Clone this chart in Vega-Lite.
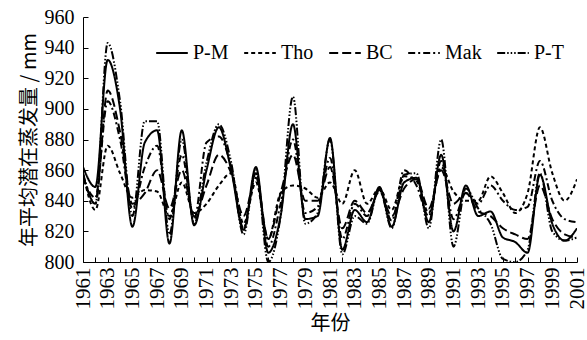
{
  "$schema": "https://vega.github.io/schema/vega-lite/v6.json",
  "autosize": {"type": "none"},
  "padding": {"left": 83, "top": 17, "right": 10, "bottom": 78},
  "width": 494,
  "height": 245,
  "background": "white",
  "config": {
    "view": {"stroke": null},
    "font": "Liberation Serif"
  },
  "data": {"values": [
{"year":1961,"model":"P-M","value":862},{"year":1962,"model":"P-M","value":849},{"year":1963,"model":"P-M","value":932},{"year":1964,"model":"P-M","value":900},{"year":1965,"model":"P-M","value":823},{"year":1966,"model":"P-M","value":878},{"year":1967,"model":"P-M","value":886},{"year":1968,"model":"P-M","value":812},{"year":1969,"model":"P-M","value":886},{"year":1970,"model":"P-M","value":824},{"year":1971,"model":"P-M","value":860},{"year":1972,"model":"P-M","value":888},{"year":1973,"model":"P-M","value":860},{"year":1974,"model":"P-M","value":821},{"year":1975,"model":"P-M","value":862},{"year":1976,"model":"P-M","value":806},{"year":1977,"model":"P-M","value":830},{"year":1978,"model":"P-M","value":890},{"year":1979,"model":"P-M","value":828},{"year":1980,"model":"P-M","value":830},{"year":1981,"model":"P-M","value":881},{"year":1982,"model":"P-M","value":808},{"year":1983,"model":"P-M","value":834},{"year":1984,"model":"P-M","value":826},{"year":1985,"model":"P-M","value":849},{"year":1986,"model":"P-M","value":823},{"year":1987,"model":"P-M","value":852},{"year":1988,"model":"P-M","value":855},{"year":1989,"model":"P-M","value":826},{"year":1990,"model":"P-M","value":870},{"year":1991,"model":"P-M","value":820},{"year":1992,"model":"P-M","value":850},{"year":1993,"model":"P-M","value":830},{"year":1994,"model":"P-M","value":833},{"year":1995,"model":"P-M","value":816},{"year":1996,"model":"P-M","value":813},{"year":1997,"model":"P-M","value":806},{"year":1998,"model":"P-M","value":857},{"year":1999,"model":"P-M","value":825},{"year":2000,"model":"P-M","value":814},{"year":2001,"model":"P-M","value":822},
{"year":1961,"model":"Tho","value":858},{"year":1962,"model":"Tho","value":834},{"year":1963,"model":"Tho","value":876},{"year":1964,"model":"Tho","value":858},{"year":1965,"model":"Tho","value":842},{"year":1966,"model":"Tho","value":847},{"year":1967,"model":"Tho","value":846},{"year":1968,"model":"Tho","value":830},{"year":1969,"model":"Tho","value":852},{"year":1970,"model":"Tho","value":832},{"year":1971,"model":"Tho","value":838},{"year":1972,"model":"Tho","value":850},{"year":1973,"model":"Tho","value":858},{"year":1974,"model":"Tho","value":825},{"year":1975,"model":"Tho","value":852},{"year":1976,"model":"Tho","value":815},{"year":1977,"model":"Tho","value":845},{"year":1978,"model":"Tho","value":850},{"year":1979,"model":"Tho","value":848},{"year":1980,"model":"Tho","value":842},{"year":1981,"model":"Tho","value":852},{"year":1982,"model":"Tho","value":838},{"year":1983,"model":"Tho","value":860},{"year":1984,"model":"Tho","value":838},{"year":1985,"model":"Tho","value":848},{"year":1986,"model":"Tho","value":834},{"year":1987,"model":"Tho","value":856},{"year":1988,"model":"Tho","value":853},{"year":1989,"model":"Tho","value":832},{"year":1990,"model":"Tho","value":862},{"year":1991,"model":"Tho","value":846},{"year":1992,"model":"Tho","value":840},{"year":1993,"model":"Tho","value":840},{"year":1994,"model":"Tho","value":856},{"year":1995,"model":"Tho","value":845},{"year":1996,"model":"Tho","value":832},{"year":1997,"model":"Tho","value":845},{"year":1998,"model":"Tho","value":888},{"year":1999,"model":"Tho","value":858},{"year":2000,"model":"Tho","value":840},{"year":2001,"model":"Tho","value":854},
{"year":1961,"model":"BC","value":857},{"year":1962,"model":"BC","value":838},{"year":1963,"model":"BC","value":912},{"year":1964,"model":"BC","value":885},{"year":1965,"model":"BC","value":838},{"year":1966,"model":"BC","value":845},{"year":1967,"model":"BC","value":860},{"year":1968,"model":"BC","value":835},{"year":1969,"model":"BC","value":860},{"year":1970,"model":"BC","value":830},{"year":1971,"model":"BC","value":850},{"year":1972,"model":"BC","value":870},{"year":1973,"model":"BC","value":858},{"year":1974,"model":"BC","value":830},{"year":1975,"model":"BC","value":855},{"year":1976,"model":"BC","value":815},{"year":1977,"model":"BC","value":845},{"year":1978,"model":"BC","value":870},{"year":1979,"model":"BC","value":840},{"year":1980,"model":"BC","value":840},{"year":1981,"model":"BC","value":862},{"year":1982,"model":"BC","value":822},{"year":1983,"model":"BC","value":840},{"year":1984,"model":"BC","value":832},{"year":1985,"model":"BC","value":846},{"year":1986,"model":"BC","value":830},{"year":1987,"model":"BC","value":848},{"year":1988,"model":"BC","value":854},{"year":1989,"model":"BC","value":835},{"year":1990,"model":"BC","value":860},{"year":1991,"model":"BC","value":838},{"year":1992,"model":"BC","value":845},{"year":1993,"model":"BC","value":833},{"year":1994,"model":"BC","value":830},{"year":1995,"model":"BC","value":822},{"year":1996,"model":"BC","value":818},{"year":1997,"model":"BC","value":815},{"year":1998,"model":"BC","value":850},{"year":1999,"model":"BC","value":828},{"year":2000,"model":"BC","value":818},{"year":2001,"model":"BC","value":816},
{"year":1961,"model":"Mak","value":855},{"year":1962,"model":"Mak","value":842},{"year":1963,"model":"Mak","value":905},{"year":1964,"model":"Mak","value":880},{"year":1965,"model":"Mak","value":835},{"year":1966,"model":"Mak","value":862},{"year":1967,"model":"Mak","value":876},{"year":1968,"model":"Mak","value":828},{"year":1969,"model":"Mak","value":870},{"year":1970,"model":"Mak","value":828},{"year":1971,"model":"Mak","value":878},{"year":1972,"model":"Mak","value":882},{"year":1973,"model":"Mak","value":862},{"year":1974,"model":"Mak","value":822},{"year":1975,"model":"Mak","value":858},{"year":1976,"model":"Mak","value":810},{"year":1977,"model":"Mak","value":838},{"year":1978,"model":"Mak","value":880},{"year":1979,"model":"Mak","value":832},{"year":1980,"model":"Mak","value":836},{"year":1981,"model":"Mak","value":868},{"year":1982,"model":"Mak","value":815},{"year":1983,"model":"Mak","value":838},{"year":1984,"model":"Mak","value":830},{"year":1985,"model":"Mak","value":847},{"year":1986,"model":"Mak","value":827},{"year":1987,"model":"Mak","value":860},{"year":1988,"model":"Mak","value":850},{"year":1989,"model":"Mak","value":830},{"year":1990,"model":"Mak","value":866},{"year":1991,"model":"Mak","value":828},{"year":1992,"model":"Mak","value":845},{"year":1993,"model":"Mak","value":838},{"year":1994,"model":"Mak","value":850},{"year":1995,"model":"Mak","value":840},{"year":1996,"model":"Mak","value":834},{"year":1997,"model":"Mak","value":836},{"year":1998,"model":"Mak","value":866},{"year":1999,"model":"Mak","value":840},{"year":2000,"model":"Mak","value":828},{"year":2001,"model":"Mak","value":826},
{"year":1961,"model":"P-T","value":858},{"year":1962,"model":"P-T","value":838},{"year":1963,"model":"P-T","value":943},{"year":1964,"model":"P-T","value":905},{"year":1965,"model":"P-T","value":830},{"year":1966,"model":"P-T","value":892},{"year":1967,"model":"P-T","value":892},{"year":1968,"model":"P-T","value":818},{"year":1969,"model":"P-T","value":880},{"year":1970,"model":"P-T","value":825},{"year":1971,"model":"P-T","value":865},{"year":1972,"model":"P-T","value":890},{"year":1973,"model":"P-T","value":865},{"year":1974,"model":"P-T","value":818},{"year":1975,"model":"P-T","value":860},{"year":1976,"model":"P-T","value":800},{"year":1977,"model":"P-T","value":830},{"year":1978,"model":"P-T","value":908},{"year":1979,"model":"P-T","value":825},{"year":1980,"model":"P-T","value":832},{"year":1981,"model":"P-T","value":880},{"year":1982,"model":"P-T","value":805},{"year":1983,"model":"P-T","value":830},{"year":1984,"model":"P-T","value":825},{"year":1985,"model":"P-T","value":848},{"year":1986,"model":"P-T","value":822},{"year":1987,"model":"P-T","value":857},{"year":1988,"model":"P-T","value":858},{"year":1989,"model":"P-T","value":822},{"year":1990,"model":"P-T","value":880},{"year":1991,"model":"P-T","value":810},{"year":1992,"model":"P-T","value":848},{"year":1993,"model":"P-T","value":835},{"year":1994,"model":"P-T","value":825},{"year":1995,"model":"P-T","value":802},{"year":1996,"model":"P-T","value":800},{"year":1997,"model":"P-T","value":808},{"year":1998,"model":"P-T","value":858},{"year":1999,"model":"P-T","value":820},{"year":2000,"model":"P-T","value":814},{"year":2001,"model":"P-T","value":816}
  ]},
  "mark": {"type": "line", "interpolate": "monotone", "color": "black", "strokeWidth": 2, "clip": true},
  "encoding": {
    "x": {
      "field": "year", "type": "quantitative",
      "scale": {"domain": [1961, 2001], "nice": false, "zero": false},
      "axis": {
        "title": "年份", "titleFont": "Noto Sans CJK SC", "titleFontSize": 20, "titleFontWeight": "normal", "titleColor": "black", "titlePadding": 4,
        "values": [1961,1962,1963,1964,1965,1966,1967,1968,1969,1970,1971,1972,1973,1974,1975,1976,1977,1978,1979,1980,1981,1982,1983,1984,1985,1986,1987,1988,1989,1990,1991,1992,1993,1994,1995,1996,1997,1998,1999,2000,2001],
        "format": "d",
        "labelExpr": "(datum.value - 1961) % 2 == 0 ? datum.label : ''",
        "labelOverlap": false,
        "labelAngle": -90, "labelFont": "Liberation Serif, serif", "labelFontSize": 21, "labelColor": "black", "labelPadding": 10,
        "tickSize": -5, "tickColor": "black", "domainColor": "black", "grid": false
      }
    },
    "y": {
      "field": "value", "type": "quantitative",
      "scale": {"domain": [800, 960], "nice": false, "zero": false},
      "axis": {
        "title": "年平均潜在蒸发量 / mm", "titleFont": "Noto Sans CJK SC", "titleFontSize": 20, "titleFontWeight": "normal", "titleColor": "black", "titlePadding": 5,
        "values": [800,820,840,860,880,900,920,940,960],
        "labelFont": "Liberation Serif, serif", "labelFontSize": 20, "labelColor": "black", "labelPadding": 14,
        "tickSize": -5, "tickColor": "black", "domainColor": "black", "grid": false
      }
    },
    "strokeDash": {
      "field": "model", "type": "nominal",
      "scale": {"domain": ["P-M","Tho","BC","Mak","P-T"], "range": [[1,0],[4,3],[9,4],[7,3,2,3],[8,2,1.5,2,1.5,2,1.5,2]]},
      "legend": {
        "title": null, "orient": "none", "direction": "horizontal", "legendX": 72, "legendY": 19,
        "symbolType": "stroke", "symbolSize": 1000, "symbolStrokeWidth": 2, "symbolStrokeColor": "black",
        "labelFontSize": 20, "labelColor": "black", "labelFont": "Liberation Serif, serif", "columnPadding": 11, "labelOffset": 4
      }
    }
  }
}
